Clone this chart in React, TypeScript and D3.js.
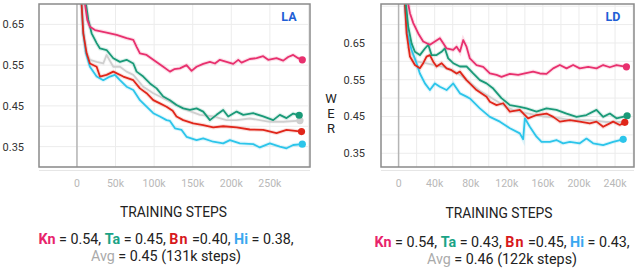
import React from "react";
import * as d3 from "d3";

// [training steps (k), WER]
const laKn: [number, number][] = [
  [10.4, 0.70], [13.4, 0.661], [16.8, 0.644], [23.3, 0.636], [38.4, 0.63], [51.4, 0.624],
  [64.3, 0.616], [73, 0.612], [77.3, 0.595], [81.6, 0.579], [90.2, 0.575], [98.9, 0.563],
  [111.8, 0.546], [120.5, 0.534], [126, 0.54], [133.4, 0.542], [142, 0.55], [148.5, 0.536],
  [155, 0.546], [163.6, 0.553], [172.3, 0.558], [178.8, 0.554], [185.2, 0.563], [193.9, 0.558],
  [202.5, 0.553], [209, 0.563], [213.3, 0.556], [224, 0.565], [232.7, 0.567], [241.3, 0.572],
  [247.8, 0.563], [258.6, 0.567], [267.3, 0.561], [273.7, 0.57], [280.2, 0.575], [286.7, 0.567],
  [292, 0.563],
];
const laTa: [number, number][] = [
  [11.7, 0.70], [14.7, 0.661], [19, 0.628], [25.5, 0.604], [29.8, 0.591], [38.4, 0.587],
  [47.1, 0.567], [55.7, 0.558], [64.3, 0.563], [73, 0.554], [77.3, 0.534], [85.9, 0.522],
  [94.6, 0.505], [103.2, 0.493], [111.8, 0.473], [120.5, 0.464], [129, 0.452], [137.7, 0.444],
  [146.4, 0.44], [155, 0.444], [163.6, 0.436], [172.3, 0.415], [180.9, 0.428], [189.5, 0.44],
  [196, 0.424], [206.9, 0.436], [215.5, 0.428], [228.4, 0.432], [241.3, 0.424], [254.3, 0.415],
  [262.9, 0.428], [271.6, 0.42], [280.2, 0.431], [288, 0.427],
];
const laBn: [number, number][] = [
  [6, 0.70], [8.2, 0.628], [12.5, 0.579], [16.8, 0.554], [25.5, 0.546], [29.8, 0.522],
  [38.4, 0.526], [47.1, 0.534], [60, 0.522], [73, 0.513], [81.6, 0.493], [90.2, 0.481],
  [98.9, 0.464], [107.5, 0.456], [116.1, 0.448], [124, 0.438], [129, 0.424], [137.7, 0.415],
  [150.7, 0.407], [163.6, 0.403], [176.6, 0.397], [189.5, 0.4], [206.9, 0.397], [224, 0.392],
  [241.3, 0.391], [258.6, 0.383], [271.6, 0.391], [291, 0.387],
];
const laHi: [number, number][] = [
  [6, 0.70], [8.2, 0.628], [11.7, 0.579], [16.8, 0.546], [25.5, 0.522], [34.1, 0.513],
  [42.7, 0.522], [49.2, 0.526], [55.7, 0.513], [64.3, 0.497], [73, 0.489], [81.6, 0.464],
  [90.2, 0.448], [98.9, 0.432], [107.5, 0.424], [116.1, 0.415], [120.5, 0.413], [127, 0.395],
  [135.6, 0.391], [142, 0.374], [155, 0.366], [163.6, 0.37], [176.6, 0.362], [189.5, 0.358],
  [198.2, 0.366], [211.1, 0.358], [228.4, 0.356], [237, 0.348], [250, 0.358], [262.9, 0.35],
  [271.6, 0.346], [280.2, 0.354], [292, 0.356],
];
const laAvg: [number, number][] = [
  [10.4, 0.587], [16.8, 0.563], [25.5, 0.558], [34.1, 0.554], [38.4, 0.575], [47.1, 0.546],
  [55.7, 0.546], [64.3, 0.534], [73, 0.526], [85.9, 0.497], [98.9, 0.481], [107.5, 0.473],
  [124.8, 0.456], [142, 0.44], [159.3, 0.428], [176.6, 0.424], [193.9, 0.415], [206.9, 0.415],
  [224, 0.419], [250, 0.411], [267.3, 0.411], [289, 0.414],
];

// [training steps (k), WER]
const ldKn: [number, number][] = [
  [10.7, 0.756], [12.6, 0.731], [16.3, 0.704], [21.8, 0.676], [27.3, 0.654], [34.7, 0.645],
  [40.3, 0.654], [45.8, 0.663], [49.5, 0.649], [53.2, 0.635], [60.6, 0.631], [64.3, 0.64],
  [68, 0.626], [71.7, 0.658], [75.3, 0.64], [79, 0.608], [86.4, 0.59], [93.8, 0.585],
  [101.2, 0.567], [108.6, 0.563], [114.1, 0.558], [123.4, 0.566], [132.6, 0.563], [140, 0.567],
  [149.2, 0.572], [156.6, 0.567], [164, 0.566], [171.4, 0.581], [178.8, 0.59], [186.2, 0.581],
  [193.5, 0.59], [200.9, 0.581], [210.2, 0.585], [219.4, 0.581], [226.8, 0.59], [234.2, 0.584],
  [241.6, 0.59], [252.6, 0.585],
];
const ldTa: [number, number][] = [
  [8.1, 0.756], [10.7, 0.694], [14.4, 0.649], [18.1, 0.626], [23.6, 0.617], [29.2, 0.635],
  [32.9, 0.645], [36.6, 0.617], [42.1, 0.617], [47.6, 0.626], [51.3, 0.635], [55, 0.608],
  [60.6, 0.595], [68, 0.586], [75.3, 0.586], [82.7, 0.567], [90.1, 0.549], [97.5, 0.54],
  [104.9, 0.526], [114, 0.5], [123.4, 0.481], [134.4, 0.476], [141.8, 0.472], [152.9, 0.463],
  [164, 0.472], [175, 0.468], [186.2, 0.458], [197.3, 0.449], [208.3, 0.454], [219.4, 0.468],
  [226.8, 0.449], [234.2, 0.458], [241.6, 0.445], [253.4, 0.452],
];
const ldBn: [number, number][] = [
  [7, 0.756], [8.9, 0.676], [12.6, 0.613], [18.1, 0.59], [23.6, 0.581], [27.3, 0.595],
  [31, 0.613], [34.7, 0.617], [38.4, 0.599], [42.1, 0.586], [47.6, 0.595], [53.2, 0.581],
  [58.7, 0.576], [64.3, 0.567], [68, 0.572], [75.3, 0.549], [79, 0.54], [86.4, 0.522],
  [97.5, 0.504], [101.2, 0.49], [108.6, 0.481], [116, 0.486], [123.4, 0.463], [134.4, 0.468],
  [143.6, 0.445], [152.9, 0.454], [164, 0.458], [171.4, 0.449], [178.8, 0.436], [189.9, 0.44],
  [200.9, 0.436], [212, 0.431], [219.4, 0.436], [226.8, 0.422], [237.9, 0.436], [245.2, 0.427],
  [250.8, 0.434],
];
const ldHi: [number, number][] = [
  [7, 0.756], [9.6, 0.676], [14.4, 0.631], [19.9, 0.595], [23.6, 0.567], [29.2, 0.54],
  [34.7, 0.522], [40.3, 0.54], [45.8, 0.531], [53.2, 0.522], [60.6, 0.54], [68, 0.513],
  [75.3, 0.504], [79, 0.499], [90.1, 0.472], [101.2, 0.449], [112.3, 0.436], [123.4, 0.418],
  [134.4, 0.404], [138.1, 0.388], [140, 0.445], [145.5, 0.422], [152.9, 0.395], [158.5, 0.381],
  [167.7, 0.381], [175, 0.386], [182.4, 0.377], [189.9, 0.381], [200.9, 0.377], [208.3, 0.39],
  [215.7, 0.377], [226.8, 0.372], [237.9, 0.381], [249, 0.388],
];
const ldAvg: [number, number][] = [
  [10, 0.64], [20, 0.6], [30, 0.595], [40, 0.59], [50, 0.585], [60, 0.575], [70, 0.56],
  [80, 0.54], [90, 0.52], [100, 0.505], [110, 0.49], [120, 0.475], [130, 0.465], [140, 0.46],
  [150, 0.455], [160, 0.45], [170, 0.448], [180, 0.445], [190, 0.44], [200, 0.44], [210, 0.44],
  [220, 0.438], [230, 0.435], [240, 0.435], [250, 0.435],
];

const laXTicks = [0, 50, 100, 150, 200, 250];
const ldXTicks = [0, 40, 80, 120, 160, 200, 240];
const yTicks = [0.35, 0.45, 0.55, 0.65];

const colors = { Kn: "#e8306e", Ta: "#1a9a78", Bn: "#e0261a", Hi: "#2cc5ea", Avg: "#cfcfcf" };
const legendColors = { Kn: "#e8246b", Ta: "#1aa386", Bn: "#d7191c", Hi: "#3aa8f0", Avg: "#aaaaaa" };

const laScores = ["0.54", "0.45", "0.40", "0.38", "0.45 (131k steps)"];
const ldScores = ["0.54", "0.43", "0.45", "0.43", "0.46 (122k steps)"];

type Series = { key: keyof typeof colors; data: [number, number][]; dot: boolean };

type PanelProps = {
  id: string;
  title: string;
  left: number;
  right: number;
  xDomain: [number, number];
  yDomain: [number, number];
  xGridStep: number;
  xTicks: number[];
  labelX: number;
  series: Series[];
};

function Panel({ id, title, left, right, xDomain, yDomain, xGridStep, xTicks, labelX, series }: PanelProps) {
  const top = 4;
  const bottom = 167;
  const x = d3.scaleLinear().domain(xDomain).range([left, right]);
  const y = d3.scaleLinear().domain(yDomain).range([bottom, top]);
  const line = d3
    .line<[number, number]>()
    .x((d) => x(d[0]))
    .y((d) => y(d[1]));

  const xGrid = d3.range(Math.ceil(xDomain[0] / xGridStep) * xGridStep, xDomain[1], xGridStep);
  const yGrid = d3.range(Math.ceil(yDomain[0] / 0.05) * 0.05, yDomain[1], 0.05);

  return (
    <g>
      <defs>
        <clipPath id={`clip-${id}`}>
          <rect x={left} y={top} width={right - left} height={bottom - top} />
        </clipPath>
      </defs>
      {xGrid.map((g) => (
        <line key={`xg${g}`} x1={x(g)} x2={x(g)} y1={top} y2={bottom} stroke="#ececec" strokeWidth={1} />
      ))}
      {yGrid.map((g) => (
        <line key={`yg${g}`} x1={left} x2={right} y1={y(g)} y2={y(g)} stroke="#ececec" strokeWidth={1} />
      ))}
      <line x1={x(0)} x2={x(0)} y1={top} y2={bottom} stroke="#b5b5b5" strokeWidth={1.5} />
      <g clipPath={`url(#clip-${id})`}>
        {series.map((s) => (
          <path key={`sh${s.key}`} d={line(s.data) || ""} fill="none" stroke={colors[s.key]} strokeOpacity={0.15} strokeWidth={4} />
        ))}
        {series.map((s) => (
          <path key={s.key} d={line(s.data) || ""} fill="none" stroke={colors[s.key]} strokeWidth={1.8} strokeLinejoin="round" />
        ))}
      </g>
      {series
        .filter((s) => s.dot)
        .map((s) => {
          const last = s.data[s.data.length - 1];
          return <circle key={`dot${s.key}`} cx={x(last[0])} cy={y(last[1])} r={3.6} fill={colors[s.key]} />;
        })}
      <rect x={left} y={top} width={right - left} height={bottom - top} fill="none" stroke="#8a8a8a" strokeWidth={1.5} />
      <line x1={left} x2={right} y1={170.5} y2={170.5} stroke="#e6e6e6" strokeWidth={1} />
      {xTicks.map((t) => (
        <text key={`xt${t}`} x={x(t)} y={187} textAnchor="middle" fontSize={10.5} fill="#b8b8b8">
          {t === 0 ? "0" : `${t}k`}
        </text>
      ))}
      {yTicks.map((t) => (
        <text key={`yt${t}`} x={labelX} y={y(t) + 4} textAnchor="end" fontSize={11} fill="#333">
          {t.toFixed(2)}
        </text>
      ))}
      <text x={right - 21} y={21} textAnchor="middle" fontSize={12.5} fontWeight="bold" fill="#1f5fd6">
        {title}
      </text>
    </g>
  );
}

function Legend({ cx, y0, scores }: { cx: number; y0: number; scores: string[] }) {
  return (
    <g fontSize={14.3} fill="#222">
      <text x={cx} y={y0} textAnchor="middle">
        <tspan fill={legendColors.Kn} fontWeight="bold">Kn</tspan>
        <tspan>{` = ${scores[0]}, `}</tspan>
        <tspan fill={legendColors.Ta} fontWeight="bold">Ta</tspan>
        <tspan>{` = ${scores[1]}, `}</tspan>
        <tspan fill={legendColors.Bn} fontWeight="bold" letterSpacing={1}>Bn</tspan>
        <tspan>{` =${scores[2]}, `}</tspan>
        <tspan fill={legendColors.Hi} fontWeight="bold">Hi</tspan>
        <tspan>{` = ${scores[3]},`}</tspan>
      </text>
      <text x={cx} y={y0 + 17.5} textAnchor="middle">
        <tspan fill={legendColors.Avg}>Avg</tspan>
        <tspan>{` = ${scores[4]}`}</tspan>
      </text>
    </g>
  );
}

export default function App() {
  const laSeries: Series[] = [
    { key: "Avg", data: laAvg, dot: true },
    { key: "Hi", data: laHi, dot: true },
    { key: "Bn", data: laBn, dot: true },
    { key: "Ta", data: laTa, dot: true },
    { key: "Kn", data: laKn, dot: true },
  ];
  const ldSeries: Series[] = [
    { key: "Avg", data: ldAvg, dot: false },
    { key: "Hi", data: ldHi, dot: true },
    { key: "Bn", data: ldBn, dot: true },
    { key: "Ta", data: ldTa, dot: true },
    { key: "Kn", data: ldKn, dot: true },
  ];
  return (
    <svg
      width={640}
      height={268}
      style={{ position: "absolute", left: 0, top: 0, background: "#fff" }}
      fontFamily="Roboto, 'Liberation Sans', Arial, sans-serif"
    >
      <Panel
        id="la"
        title="LA"
        left={39}
        right={310}
        xDomain={[-49.2, 302]}
        yDomain={[0.3, 0.7]}
        xGridStep={50}
        xTicks={laXTicks}
        labelX={24}
        series={laSeries}
      />
      <Panel
        id="ld"
        title="LD"
        left={381}
        right={634}
        xDomain={[-19.5, 261]}
        yDomain={[0.3126, 0.756]}
        xGridStep={20}
        xTicks={ldXTicks}
        labelX={365}
        series={ldSeries}
      />
      <g fontSize={13} fill="#222" textAnchor="middle">
        <text x={331} y={103}>W</text>
        <text x={331} y={118}>E</text>
        <text x={331} y={133}>R</text>
      </g>
      <text x={173.5} y={217} textAnchor="middle" fontSize={13.8} fill="#222">TRAINING STEPS</text>
      <text x={499} y={217.5} textAnchor="middle" fontSize={13.8} fill="#222">TRAINING STEPS</text>
      <Legend cx={166} y0={243.5} scores={laScores} />
      <Legend cx={502} y0={246.5} scores={ldScores} />
    </svg>
  );
}
